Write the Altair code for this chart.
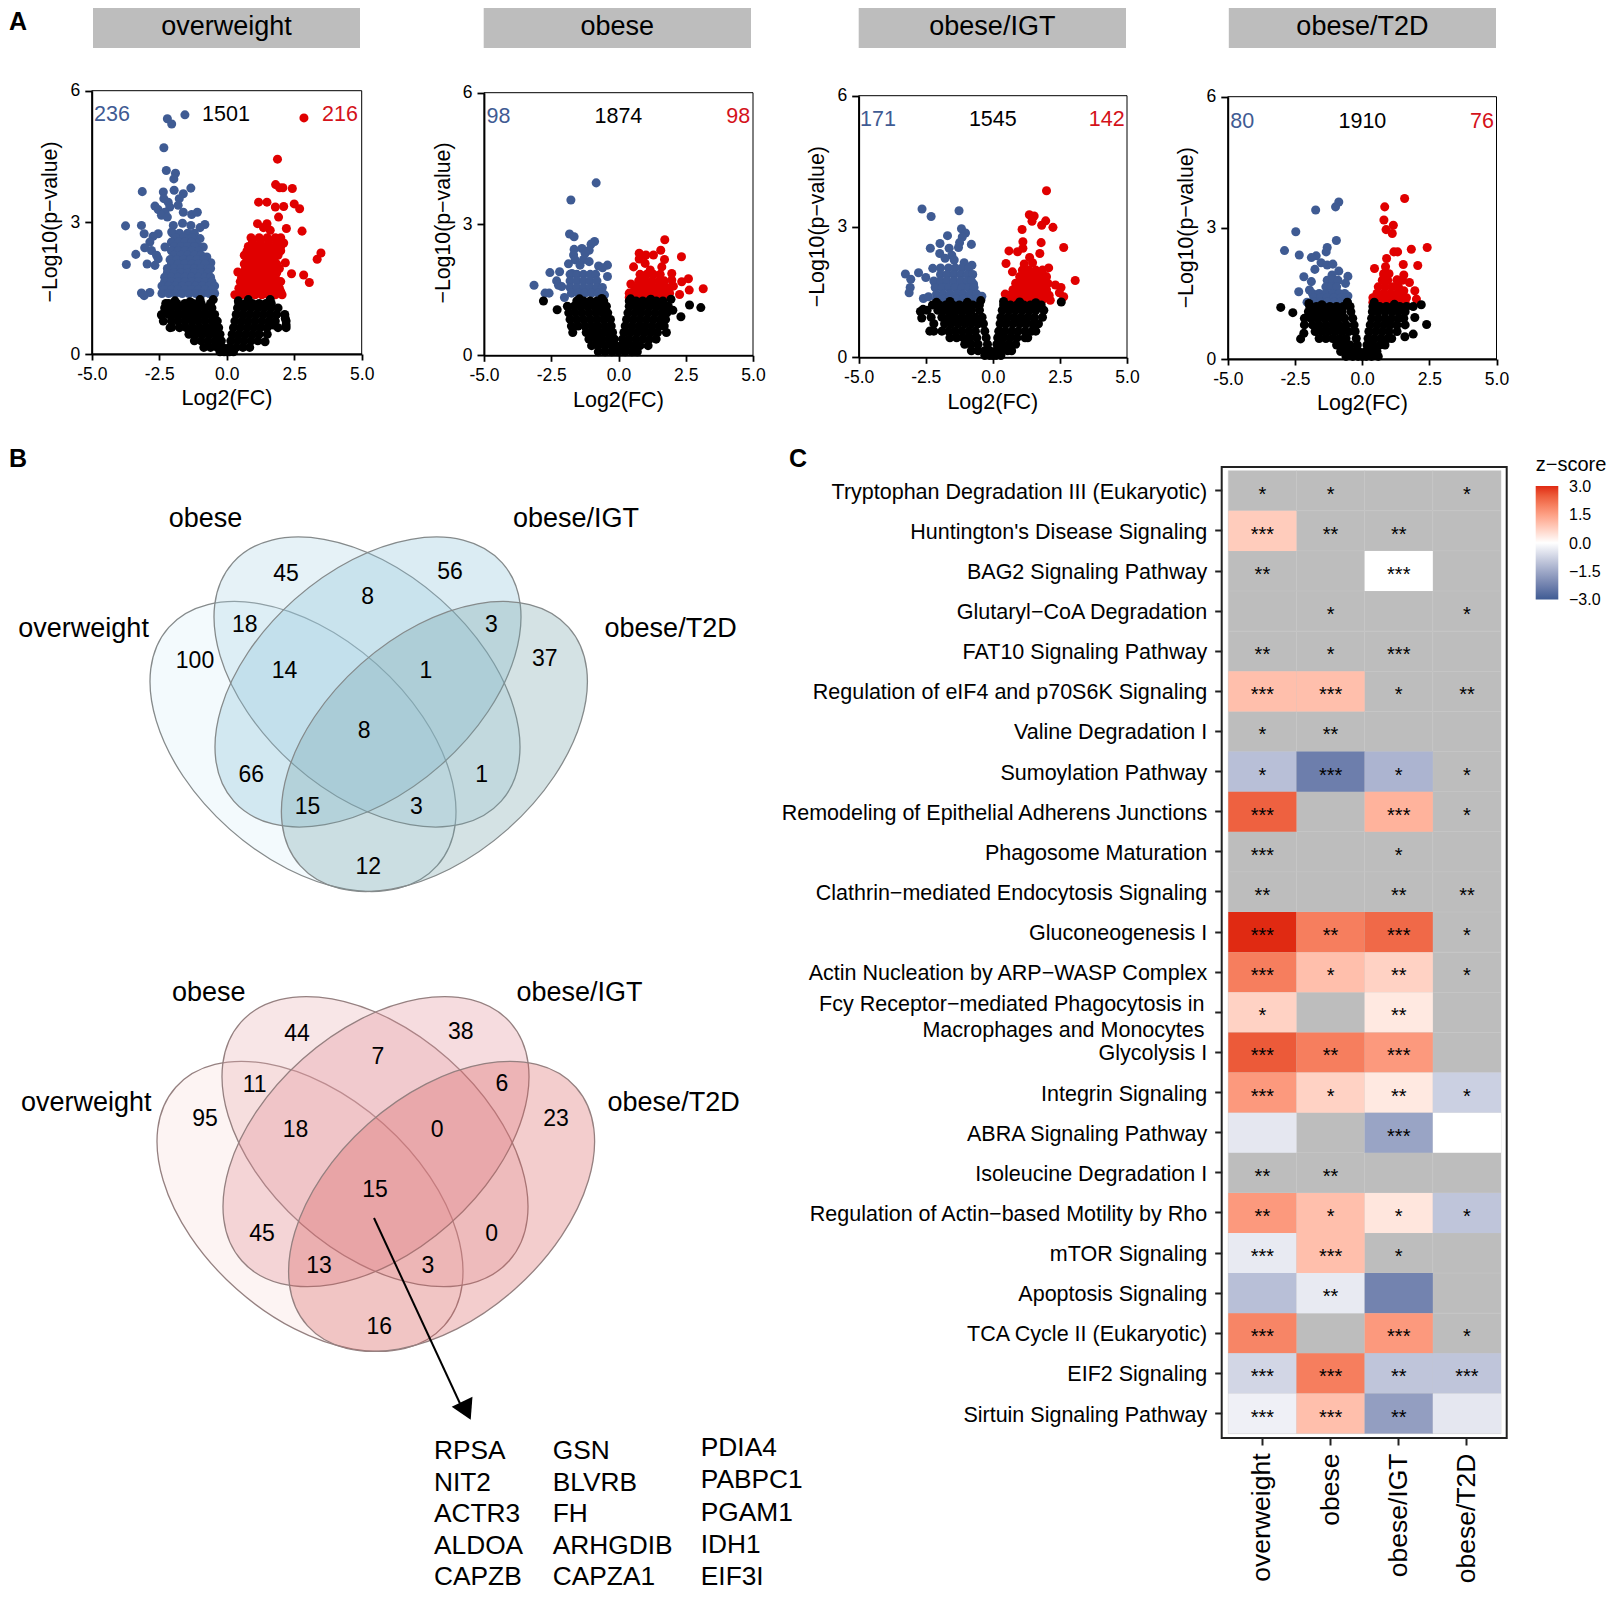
import altair as alt
import pandas as pd

FONT = "Liberation Sans"
W, H = 1599, 1582
M = 8  # page margin

groups = ["overweight", "obese", "obese/IGT", "obese/T2D"]
counts = [(236, 1501, 216), (98, 1874, 98), (171, 1545, 142), (80, 1910, 76)]
BLUE, RED = "#3f5b93", "#e00000"

# ---------- volcano values: (log2FC, -log10 p) ----------
blue_pts_1 = [(-1.55,5.45),(-2.2,5.36),(-2.04,5.24),(-2.33,4.7),(-2.24,4.18),(-1.9,4.12),(-1.96,3.99),(-3.13,3.7),(-2.35,3.69),(-1.95,3.73),(-1.33,3.78),(-1.61,3.65),(-1.76,3.54),(-2.33,3.54),(-2.17,3.46),(-2.66,3.37),(-2.54,3.29),(-2.11,3.35),(-1.8,3.39),(-2.29,3.23),(-2.42,3.16),(-2.2,3.12),(-1.61,3.23),(-1.3,3.18),(-1.09,3.23),(-3.75,2.92),(-3.16,2.93),(-3.06,2.74),(-1.98,2.93),(-1.64,2.98),(-1.33,2.93),(-0.81,2.95),(-0.99,2.88),(-2.54,2.74),(-2.73,2.68),(-2.04,2.78),(-0.99,2.63),(-2.85,2.55),(-3.04,2.42),(-1.12,2.53),(-0.87,2.44),(-2.29,2.44),(-2.79,2.36),(-3.37,2.27),(-2.6,2.25),(-3.72,2.04),(-2.95,2.05),(-2.66,2.02),(-2.54,2.17),(-0.74,2.21),(-0.59,2.08),(-3.16,1.39),(-2.85,1.4),(-3.06,1.33)]
blue_rows_1 = [(2.75,[-2.0,-1.75,-1.45,-1.2]),(2.65,[-1.9,-1.6,-1.3]),(2.55,[-2.05,-1.8,-1.55,-1.3]),(2.45,[-1.95,-1.7,-1.45,-1.2]),(2.35,[-2.05,-1.8,-1.55,-1.3,-1.05]),(2.25,[-1.95,-1.7,-1.45,-1.2,-0.95]),(2.15,[-2.1,-1.85,-1.6,-1.35,-1.1,-0.85]),(2.05,[-2.05,-1.8,-1.55,-1.3,-1.05,-0.8]),(1.95,[-2.2,-1.95,-1.7,-1.45,-1.2,-0.95,-0.7,-0.6]),(1.85,[-2.2,-1.95,-1.7,-1.45,-1.2,-0.95,-0.7]),(1.75,[-2.3,-2.05,-1.8,-1.55,-1.3,-1.05,-0.8,-0.6]),(1.65,[-2.3,-2.05,-1.8,-1.55,-1.3,-1.05,-0.8,-0.55]),(1.55,[-2.4,-2.15,-1.9,-1.65,-1.4,-1.15,-0.9,-0.65,-0.45]),(1.47,[-2.3,-2.05,-1.8,-1.55,-1.3,-1.05,-0.8,-0.55]),(1.38,[-2.4,-2.15,-1.9,-1.65,-1.4,-1.15,-0.9,-0.65,-0.45])]
red_pts_1 = [(2.86,5.38),(1.88,4.44),(1.81,3.86),(1.96,3.79),(2.08,3.79),(2.43,3.77),(1.18,3.46),(1.49,3.46),(2.5,3.42),(2.7,3.31),(2.11,3.36),(1.8,3.35),(1.92,3.12),(1.14,2.97),(1.49,2.97),(1.36,2.88),(2.21,2.86),(2.79,2.8),(1.61,2.82),(3.49,2.3),(3.35,2.16),(2.17,2.08),(2.4,1.83),(2.85,1.8),(3.06,1.63),(0.41,1.87),(2.11,2.53)]
red_rows_1 = [(2.65,[0.9,1.2,1.5,1.8,2.0]),(2.55,[0.95,1.25,1.55,1.85]),(2.45,[0.8,1.05,1.3,1.55,1.8,2.0]),(2.35,[0.75,1.0,1.25,1.5,1.75,2.0]),(2.25,[0.65,0.9,1.15,1.4,1.65,1.9]),(2.15,[0.75,1.0,1.25,1.5,1.75]),(2.05,[0.65,0.9,1.15,1.4,1.65,1.85]),(1.95,[0.7,0.95,1.2,1.45,1.7,1.95]),(1.85,[0.6,0.85,1.1,1.35,1.6,1.85]),(1.75,[0.55,0.8,1.05,1.3,1.55,1.8]),(1.65,[0.5,0.75,1.0,1.25,1.5,1.75,2.0]),(1.58,[0.6,0.85,1.1,1.35,1.6,1.85]),(1.5,[0.45,0.7,0.95,1.2,1.45,1.7,1.95]),(1.42,[0.55,0.8,1.05,1.3,1.55,1.8,2.0]),(1.35,[0.3,0.55,0.8,1.05,1.3,1.55,1.8,2.05])]
black_pts_1 = [(-2.26,1.15),(-1.92,1.21),(-1.36,1.19),(-0.99,1.24),(-0.5,1.24),(0.43,1.21),(0.8,1.24),(1.61,1.24),(-2.42,0.89),(-2.04,0.61),(2.17,0.81),(2.2,0.66),(1.73,0.66),(1.42,0.28)]
black_rows_1 = [(1.15,[-2.15,-1.85,-1.55,-1.25,-0.95,-0.6,0.45,0.7,0.95,1.2,1.45,1.65]),(1.05,[-2.3,-2.05,-1.8,-1.55,-1.3,-1.05,-0.8,-0.55,0.4,0.65,0.9,1.15,1.4,1.65,1.9]),(0.9,[-2.4,-2.15,-1.9,-1.65,-1.4,-1.15,-0.9,-0.65,-0.45,0.35,0.6,0.85,1.1,1.35,1.6,1.85,2.15]),(0.75,[-2.35,-2.05,-1.8,-1.55,-1.3,-1.05,-0.8,-0.55,-0.35,0.3,0.55,0.8,1.05,1.3,1.55,1.8,2.2]),(0.6,[-2.1,-1.75,-1.5,-1.25,-1.0,-0.75,-0.5,-0.3,0.25,0.5,0.75,1.0,1.25,1.5,1.9,2.2]),(0.45,[-1.4,-1.15,-0.9,-0.65,-0.4,-0.25,0.2,0.45,0.7,0.95,1.2,1.5]),(0.3,[-1.2,-0.95,-0.7,-0.45,-0.2,0.15,0.4,0.65,0.9,1.15]),(0.15,[-0.85,-0.6,-0.35,-0.15,0.1,0.35,0.6,0.85]),(0.05,[-0.25,-0.1,0.0,0.1,0.25])]

blue_pts_2 = [(-0.83,3.94),(-1.77,3.55),(-1.82,2.77),(-1.65,2.71),(-0.89,2.6),(-1.02,2.54),(-1.65,2.42),(-1.36,2.44),(-1.09,2.4),(-1.24,2.33),(-1.67,2.29),(-1.61,2.18),(-1.3,2.19),(-1.09,2.14),(-1.86,2.09),(-1.43,2.06),(-0.74,2.04),(-0.41,2.06),(-0.59,2.0),(-0.41,1.8),(-2.55,1.89),(-2.19,1.91),(-1.73,1.87),(-2.3,1.7),(-2.23,1.6),(-2.11,1.57),(-3.14,1.6),(-2.73,1.42),(-2.58,1.42),(-2.01,1.32),(-0.52,1.38)]
blue_rows_2 = [(1.85,[-1.8,-1.55,-1.3,-1.05,-0.85]),(1.7,[-1.8,-1.55,-1.3,-1.05,-0.8]),(1.55,[-1.8,-1.55,-1.3,-1.05,-0.8,-0.6]),(1.42,[-1.75,-1.5,-1.25,-1.0,-0.75,-0.6])]
red_pts_2 = [(1.72,2.64),(1.57,2.4),(0.77,2.33),(1.3,2.29),(1.02,2.29),(2.34,2.25),(1.71,2.19),(0.77,2.2),(0.56,2.02),(0.99,2.1),(1.61,2.02),(1.98,1.87),(1.18,1.95),(2.6,1.75),(2.35,1.68),(3.15,1.52),(2.63,1.49),(2.27,1.39),(0.46,1.63),(2.04,1.58),(1.98,1.72)]
red_rows_2 = [(1.85,[0.8,1.05,1.3,1.55]),(1.7,[0.75,1.0,1.25,1.5,1.7]),(1.55,[0.6,0.85,1.1,1.35,1.6,1.8]),(1.42,[0.4,0.65,0.9,1.15,1.4,1.65,1.9]),(1.32,[0.4,0.65,0.9,1.15,1.4,1.65])]
black_pts_2 = [(-2.79,1.24),(-2.28,1.04),(1.95,1.28),(2.64,1.15),(3.06,1.09),(2.32,0.88),(2.02,1.03),(-1.45,1.29),(-0.62,1.3),(0.45,1.29),(1.2,1.28)]
black_rows_2 = [(1.24,[-1.55,-1.3,-1.05,-0.8,-0.55,0.4,0.65,0.9,1.15,1.4,1.65]),(1.12,[-1.9,-1.65,-1.4,-1.15,-0.9,-0.65,-0.45,0.4,0.65,0.9,1.15,1.4,1.65,1.85]),(0.97,[-1.85,-1.6,-1.35,-1.1,-0.85,-0.6,-0.4,0.35,0.6,0.85,1.1,1.35,1.6,1.8]),(0.82,[-1.8,-1.55,-1.3,-1.05,-0.8,-0.55,-0.3,0.3,0.55,0.8,1.05,1.3,1.55,1.75]),(0.67,[-1.75,-1.5,-1.25,-1.0,-0.75,-0.5,-0.27,0.25,0.5,0.75,1.0,1.25,1.5,1.7]),(0.52,[-1.7,-1.2,-0.95,-0.7,-0.45,-0.22,0.2,0.45,0.7,0.95,1.2,1.45,1.78]),(0.37,[-1.1,-0.85,-0.6,-0.35,-0.15,0.15,0.4,0.65,0.9,1.15,1.4]),(0.22,[-1.0,-0.75,-0.5,-0.25,-0.1,0.1,0.3,0.55,0.8,1.1]),(0.08,[-0.75,-0.5,-0.25,0.0,0.25,0.5,0.7])]

blue_pts_3 = [(-2.64,3.4),(-2.3,3.23),(-1.26,3.36),(-1.17,2.95),(-1.02,2.85),(-1.69,2.79),(-1.14,2.76),(-1.97,2.61),(-1.24,2.63),(-0.8,2.59),(-2.33,2.5),(-1.63,2.5),(-1.28,2.52),(-1.98,2.38),(-1.53,2.34),(-1.78,2.27),(-1.44,2.23),(-0.78,2.11),(-1.07,2.17),(-2.24,2.04),(-3.26,1.91),(-3.06,1.79),(-2.77,1.94),(-3.08,1.6),(-3.12,1.48),(-2.5,1.83),(-2.59,1.35),(-2.4,1.39),(-0.41,1.4),(-0.72,1.68)]
blue_rows_3 = [(2.05,[-1.95,-1.65,-1.4,-1.15,-0.9]),(1.9,[-1.95,-1.7,-1.45,-1.2,-0.95,-0.75]),(1.75,[-2.2,-1.95,-1.7,-1.45,-1.2,-0.95,-0.8]),(1.6,[-2.15,-1.9,-1.65,-1.4,-1.15,-0.9,-0.7]),(1.45,[-2.1,-1.85,-1.6,-1.35,-1.1,-0.85,-0.6]),(1.33,[-2.1,-1.85,-1.6,-1.35,-1.1,-0.85,-0.6,-0.45])]
red_pts_3 = [(2.0,3.82),(1.36,3.27),(1.54,3.24),(1.46,3.12),(1.97,3.13),(1.82,3.03),(2.24,2.98),(1.09,2.93),(1.12,2.65),(1.8,2.63),(2.64,2.52),(0.6,2.44),(0.92,2.42),(1.12,2.5),(1.75,2.38),(1.37,2.29),(0.49,2.15),(1.17,2.14),(1.48,2.17),(0.73,1.96),(2.08,2.05),(3.07,1.76),(2.33,1.66),(2.54,1.6),(2.48,1.48),(2.64,1.39),(0.46,1.45),(2.14,1.31)]
red_rows_3 = [(2.0,[1.1,1.35,1.6,1.85]),(1.85,[1.0,1.25,1.5,1.75,2.0]),(1.7,[0.85,1.1,1.35,1.6,1.85,2.05]),(1.55,[0.75,1.0,1.25,1.5,1.75,2.0]),(1.42,[0.6,0.85,1.1,1.35,1.6,1.85,2.1]),(1.32,[0.6,0.85,1.1,1.35,1.6,1.85])]
black_pts_3 = [(2.55,1.27),(-2.7,1.05),(-2.65,0.9),(-2.35,0.6),(-2.6,1.1),(-2.1,1.26),(-1.6,1.28),(-0.95,1.26),(-0.45,1.3),(0.4,1.28),(1.0,1.27),(1.6,1.25)]
black_rows_3 = [(1.2,[-2.25,-2.0,-1.75,-1.5,-1.25,-1.0,-0.75,-0.5,0.4,0.65,0.9,1.15,1.4,1.65,1.8]),(1.08,[-2.45,-2.05,-1.8,-1.55,-1.3,-1.05,-0.8,-0.5,0.35,0.6,0.85,1.1,1.35,1.6,1.9]),(0.92,[-2.3,-1.9,-1.65,-1.4,-1.15,-0.9,-0.65,-0.4,0.3,0.55,0.8,1.05,1.3,1.55,1.85]),(0.77,[-2.2,-1.8,-1.55,-1.3,-1.05,-0.8,-0.55,-0.35,0.27,0.5,0.75,1.0,1.25,1.5,1.7]),(0.6,[-2.2,-1.9,-1.65,-1.4,-1.15,-0.9,-0.65,-0.3,0.22,0.45,0.7,0.95,1.2,1.45,1.6]),(0.45,[-1.6,-1.35,-1.1,-0.85,-0.6,-0.25,0.18,0.4,0.65,0.9,1.2,1.3]),(0.3,[-1.05,-0.8,-0.55,-0.2,0.15,0.35,0.6,0.85]),(0.15,[-0.8,-0.55,-0.3,-0.12,0.12,0.3,0.55,0.7]),(0.04,[-0.3,-0.12,0.0,0.12,0.3])]

blue_pts_4 = [(-0.87,3.59),(-0.99,3.48),(-1.73,3.41),(-2.47,2.91),(-0.96,2.71),(-1.3,2.55),(-1.34,2.45),(-2.89,2.48),(-2.34,2.38),(-1.71,2.36),(-1.89,2.32),(-1.53,2.2),(-1.3,2.15),(-1.09,2.17),(-1.76,2.05),(-0.87,2.01),(-2.17,1.88),(-0.53,1.89),(-1.12,1.92),(-1.89,1.77),(-0.62,1.73),(-2.36,1.54),(-1.96,1.58),(-0.53,1.44)]
blue_rows_4 = [(1.8,[-1.3,-1.1,-0.9]),(1.65,[-1.35,-1.15,-0.95]),(1.5,[-1.85,-1.6,-1.35,-1.1,-0.85,-0.65]),(1.4,[-1.8,-1.55,-1.3,-1.05,-0.8,-0.6]),(1.3,[-2.05,-1.8,-1.55,-1.3,-1.05,-0.8,-0.55])]
red_pts_4 = [(1.58,3.67),(0.84,3.48),(0.81,3.18),(1.16,3.06),(0.89,2.96),(1.12,2.87),(2.42,2.55),(1.83,2.51),(1.18,2.45),(1.32,2.45),(0.91,2.3),(1.53,2.16),(2.07,2.14),(0.46,2.07),(0.87,2.11),(1.55,1.92),(1.76,1.75),(1.96,1.56),(2.02,1.37),(0.81,1.92),(1.3,1.81),(1.55,1.56)]
red_rows_4 = [(1.95,[0.8,1.0]),(1.8,[0.75,0.95,1.3,1.5]),(1.65,[0.6,0.85,1.1,1.35]),(1.5,[0.55,0.8,1.05,1.3,1.5]),(1.4,[0.4,0.65,0.9,1.15,1.4,1.65]),(1.3,[0.4,0.6,0.85,1.1,1.35,1.6])]
black_pts_4 = [(-3.03,1.18),(-2.58,1.06),(2.4,0.79),(2.2,1.24),(1.96,0.95),(1.9,0.57),(1.59,0.51),(-2.29,0.46),(-2.17,0.59),(-1.98,1.27),(-1.5,1.24),(-0.55,1.3),(0.45,1.3),(1.2,1.25)]
black_rows_4 = [(1.2,[-1.95,-1.7,-1.45,-1.2,-0.95,-0.7,-0.45,0.4,0.65,0.9,1.15,1.4,1.65,1.9]),(1.08,[-2.0,-1.75,-1.5,-1.25,-1.0,-0.75,-0.42,0.38,0.6,0.85,1.1,1.35,1.6]),(0.93,[-2.15,-1.9,-1.65,-1.4,-1.15,-0.9,-0.65,-0.35,0.35,0.6,0.85,1.1,1.35,1.55]),(0.78,[-2.15,-1.85,-1.6,-1.35,-1.1,-0.85,-0.6,-0.3,0.3,0.55,0.8,1.05,1.3,1.6]),(0.63,[-1.75,-1.5,-1.25,-1.0,-0.75,-0.5,-0.26,0.25,0.5,0.75,1.0,1.3]),(0.47,[-1.6,-1.35,-1.1,-0.85,-0.6,-0.22,0.22,0.45,0.7,0.95,1.1]),(0.32,[-0.95,-0.7,-0.45,-0.18,0.18,0.4,0.65,0.85]),(0.17,[-0.8,-0.55,-0.3,-0.13,0.13,0.3,0.55]),(0.06,[-0.6,-0.35,-0.15,0.0,0.15,0.35,0.6])]

volcano_values = [
    (blue_pts_1, blue_rows_1, red_pts_1, red_rows_1, black_pts_1, black_rows_1),
    (blue_pts_2, blue_rows_2, red_pts_2, red_rows_2, black_pts_2, black_rows_2),
    (blue_pts_3, blue_rows_3, red_pts_3, red_rows_3, black_pts_3, black_rows_3),
    (blue_pts_4, blue_rows_4, red_pts_4, red_rows_4, black_pts_4, black_rows_4),
]

# ---------- heat map values ----------
fcy_lines = ["Fcy Receptor\u2212mediated Phagocytosis in", "Macrophages and Monocytes"]
FCY = " ".join(fcy_lines)
pathways = ["Tryptophan Degradation III (Eukaryotic)", "Huntington's Disease Signaling", "BAG2 Signaling Pathway",
            "Glutaryl\u2212CoA Degradation", "FAT10 Signaling Pathway", "Regulation of eIF4 and p70S6K Signaling",
            "Valine Degradation I", "Sumoylation Pathway", "Remodeling of Epithelial Adherens Junctions",
            "Phagosome Maturation", "Clathrin\u2212mediated Endocytosis Signaling", "Gluconeogenesis I",
            "Actin Nucleation by ARP\u2212WASP Complex", FCY,
            "Glycolysis I", "Integrin Signaling", "ABRA Signaling Pathway", "Isoleucine Degradation I",
            "Regulation of Actin\u2212based Motility by Rho", "mTOR Signaling", "Apoptosis Signaling",
            "TCA Cycle II (Eukaryotic)", "EIF2 Signaling", "Sirtuin Signaling Pathway"]
N = None
z_overweight = [N, 0.8, N, N, N, 1.0, N, -1.1, 2.4, N, N, 3.0, 2.0, 0.7, 2.5, 1.6, -0.4, N, 1.6, -0.35, -1.1, 1.9, -0.7, -0.25]
z_obese = [N, N, N, N, N, 1.0, N, -2.3, N, N, N, 2.0, 1.0, N, 2.0, 0.7, N, N, 1.0, 1.0, -0.35, N, 2.0, 1.0]
z_igt = [N, N, 0.0, N, N, N, N, -1.3, 1.2, N, N, 2.3, 0.7, 0.35, 1.6, 0.35, -1.6, N, 0.4, N, -2.2, 1.6, -1.0, -1.7]
z_t2d = [N, N, N, N, N, N, N, N, N, N, N, N, N, N, N, -0.8, 0.0, N, -1.0, N, N, N, -1.0, -0.4]
s_overweight = ["*","***","**","","**","***","*","*","***","***","**","***","***","*","***","***","","**","**","***","","***","***","***"]
s_obese = ["*","**","","*","*","***","**","***","","","","**","*","","**","*","","**","*","***","**","","***","***"]
s_igt = ["","**","***","","***","*","","*","***","*","**","***","**","**","***","**","***","","*","*","","***","**","**"]
s_t2d = ["*","","","*","","**","","*","*","","**","*","*","","","*","","","*","","","*","***",""]
z_cols = [z_overweight, z_obese, z_igt, z_t2d]
s_cols = [s_overweight, s_obese, s_igt, s_t2d]
legend_ticks = [3.0, 1.5, 0.0, -1.5, -3.0]
legend_marks = [1.5, -1.5]

# ---------- Venn counts ----------
venn_blue_counts = [45, 56, 8, 18, 3, 100, 14, 1, 37, 8, 66, 1, 15, 3, 12]
venn_red_counts = [44, 38, 7, 11, 6, 95, 18, 0, 23, 15, 45, 0, 13, 3, 16]
genes = [["RPSA", "NIT2", "ACTR3", "ALDOA", "CAPZB"],
         ["GSN", "BLVRB", "FH", "ARHGDIB", "CAPZA1"],
         ["PDIA4", "PABPC1", "PGAM1", "IDH1", "EIF3I"]]

# ---------- layout (page pixels) ----------
strip_x = [(93, 360), (483.7, 751), (858.7, 1126), (1228.8, 1496)]
strip_y = (4, 48)
panel_x = [(91.8, 361.7), (484, 753), (858.7, 1127), (1227.8, 1496.5)]
panel_y = [(354, 90.7), (355.3, 92.7), (357.3, 95.7), (359, 96.7)]
count_y = [114.5, 116.5, 119.5, 121.5]
count_x = [(112, 226, 340), (498.5, 618.4, 738.3), (878, 992.8, 1106.7), (1242.3, 1362.4, 1482)]
xtitle_pos = [(227, 399.3), (618.4, 400.7), (992.8, 402.7), (1362.4, 403.7)]
ytitle_pos = [(51, 222), (444, 223), (818, 226.7), (1187, 227.8)]

venn_blue_pos = [(286,573.8),(450,572.2),(367.7,597.2),(244.8,624.8),(491.5,624.8),(195,660.5),(284.6,670.8),(425.9,670.5),(544.8,659.2),(364.2,730.8),(251.2,774.8),(481.6,774.8),(307.5,806.5),(416.4,806.5),(368.2,867.2)]
venn_red_pos = [(297,1033.9),(460.8,1031.5),(378,1056.7),(254.7,1084.8),(502,1083.5),(205,1119.4),(295.5,1130.3),(437.2,1129.9),(556,1119.4),(375,1190.1),(262,1234.1),(491.6,1234.1),(319,1265.8),(427.8,1265.8),(379.2,1326.8)]
venn_blue_lab = [(83.6,628.7),(205.5,519),(576,519),(670.6,628.7)]
venn_red_lab = [(86.3,1102.6),(208.7,992.7),(579.5,992.7),(673.6,1102.6)]
ell_a, ell_b, ell_angle = 179.5, 110.5, 41.6
venn_blue_ell = [(303,746.5),(367,682),(368,682),(434.4,746.5)]
venn_red_ell = [(310,1206.4),(375,1141.6),(376,1141.6),(441.6,1206.4)]
venn_blue_fill = ["#d7eef8", "#acd4e4", "#87c0d7", "#709ea5"]
venn_red_fill = ["#f8dad7", "#e8acaf", "#e18a94", "#d75858"]
gene_x = [434, 552.8, 700.8]
gene_y = [[1451,1482.5,1514,1545.5,1577],[1451,1482.5,1514,1545.5,1577],[1448,1480.3,1512.6,1544.8,1577]]
heat_x, heat_y = (1228.3, 1501), (470.7, 1433.6)
heat_frame = (1221.7, 1506.7, 467, 1438)
fcy_y = [1004.5, 1031]
bar_x, bar_y = (1535.7, 1558.3), (600.4, 486.8)
bar_label_x = 1569

# ---------- helpers ----------
def expand(pts, rows):
    out = list(pts)
    for y, xs in rows:
        out += [(x, y) for x in xs]
    return pd.DataFrame(out, columns=["fc", "p"])

def label_layer(df, angle=None, weight=None, align="center"):
    kw = dict(align=align, baseline="middle", font=FONT)
    if weight:
        kw["fontWeight"] = weight
    if angle is not None:
        kw["angle"] = angle
    return alt.Chart(df).mark_text(**kw).encode(
        x=alt.X("px:Q", scale=None, axis=None),
        y=alt.Y("py:Q", scale=None, axis=None),
        text="text:N",
        size=alt.Size("fs:Q", scale=None, legend=None),
        color=alt.Color("col:N", scale=None, legend=None),
    )

def row(x, y, text, fs, col="black"):
    return dict(px=x - M, py=y - M, text=str(text), fs=fs, col=col)

layers = []

# ---------- Venn ellipses ----------
k = ell_b / ell_a
c = 0.5523
ELL_PATH = (f"M-1,0C-1,{-c*k:.4f} {-c:.4f},{-k:.4f} 0,{-k:.4f}"
            f"C{c:.4f},{-k:.4f} 1,{-c*k:.4f} 1,0"
            f"C1,{c*k:.4f} {c:.4f},{k:.4f} 0,{k:.4f}"
            f"C{-c:.4f},{k:.4f} -1,{c*k:.4f} -1,0Z")
for centers, fills, stroke in [(venn_blue_ell, venn_blue_fill, "#858a8b"), (venn_red_ell, venn_red_fill, "#958080")]:
    for i, g in enumerate(groups):
        d = pd.DataFrame([dict(group=g, px=centers[i][0] - M, py=centers[i][1] - M)])
        layers.append(alt.Chart(d).mark_point(
            shape=ELL_PATH, filled=True, fill=fills[i], fillOpacity=0.3, opacity=1,
            stroke=stroke, strokeWidth=1.3, strokeOpacity=1, size=4 * ell_a ** 2,
            angle=ell_angle if i < 2 else 360 - ell_angle,
        ).encode(x=alt.X("px:Q", scale=None, axis=None), y=alt.Y("py:Q", scale=None, axis=None)))

# ---------- strips ----------
strip_df = pd.DataFrame([dict(g=g, x1=a - M, x2=b - M, y1=strip_y[0] - M, y2=strip_y[1] - M)
                         for g, (a, b) in zip(groups, strip_x)])
layers.append(alt.Chart(strip_df).mark_rect(color="#bdbdbd").encode(
    x=alt.X("x1:Q", scale=None, axis=None), x2="x2:Q",
    y=alt.Y("y1:Q", scale=None, axis=None), y2="y2:Q"))

# ---------- volcanoes ----------
tick_expr = "datum.value < 0 ? '-' + format(-datum.value, '.1f') : format(datum.value, '.1f')"
for i in range(4):
    xs = alt.Scale(domain=[-5, 5], range=[panel_x[i][0] - M, panel_x[i][1] - M], nice=False, zero=False)
    ys = alt.Scale(domain=[0, 6], range=[panel_y[i][0] - M, panel_y[i][1] - M], nice=False, zero=False)
    frame = pd.DataFrame([dict(x=-5, x2=5, y=0, y2=6)])
    layers.append(alt.Chart(frame).mark_rect(fillOpacity=0, fill="white", stroke="black", strokeWidth=1).encode(
        x=alt.X("x:Q", scale=xs, title=None, axis=alt.Axis(
            orient="bottom", offset=(panel_y[i][0] - M) - H, values=[-5, -2.5, 0, 2.5, 5], labelExpr=tick_expr,
            grid=False, domainColor="black", domainWidth=1.8, tickColor="black", tickWidth=1.8, tickSize=6,
            labelFont=FONT, labelFontSize=17.5, labelColor="black", labelPadding=5, labelFlush=False, labelOverlap=False, title=None)),
        x2="x2:Q",
        y=alt.Y("y:Q", scale=ys, title=None, axis=alt.Axis(
            orient="left", offset=-(panel_x[i][0] - M), values=[0, 3, 6], format="d",
            grid=False, domainColor="black", domainWidth=1.8, tickColor="black", tickWidth=1.8, tickSize=7,
            labelFont=FONT, labelFontSize=17.5, labelColor="black", labelPadding=5, labelFlush=False, labelOverlap=False, title=None)),
        y2="y2:Q"))
    bp, br, rp, rr, kp, kr = volcano_values[i]
    for pts, rows, colr in [(bp, br, BLUE), (rp, rr, RED), (kp, kr, "black")]:
        layers.append(alt.Chart(expand(pts, rows)).mark_circle(size=82, color=colr, opacity=1).encode(
            x=alt.X("fc:Q", scale=xs, axis=None), y=alt.Y("p:Q", scale=ys, axis=None)))

# ---------- heat map ----------
hm = pd.DataFrame([dict(row=p, col=g, z=z_cols[j][r], star=s_cols[j][r])
                   for r, p in enumerate(pathways) for j, g in enumerate(groups)])
hx = alt.Scale(type="band", domain=groups, range=[heat_x[0] - M, heat_x[1] - M], paddingInner=0, paddingOuter=0)
hy = alt.Scale(type="band", domain=pathways, range=[heat_y[0] - M, heat_y[1] - M], paddingInner=0, paddingOuter=0)
layers.append(alt.Chart(hm).mark_rect(color="#bdbdbd", stroke="#c5c5c5", strokeWidth=0.5).encode(
    x=alt.X("col:N", scale=hx, sort=None, title=None, axis=alt.Axis(
        orient="bottom", offset=(heat_frame[3] - M) - H, labelAngle=270, labelAlign="right", labelBaseline="middle",
        grid=False, domain=False, tickColor="#222222", tickWidth=2, tickSize=7, labelFont=FONT, labelFontSize=26.5,
        labelColor="black", labelPadding=8, labelLimit=400, title=None)),
    y=alt.Y("row:N", scale=hy, sort=None, title=None, axis=alt.Axis(
        orient="left", offset=-(heat_frame[0] - M), labelExpr=f"datum.label == '{FCY}' ? '' : datum.label",
        grid=False, domain=False, tickColor="#222222", tickWidth=2, tickSize=7, labelFont=FONT, labelFontSize=21.5,
        labelColor="black", labelPadding=8, labelOffset=2, labelLimit=600, labelOverlap=False, labelBound=False, title=None)),
))
layers.append(alt.Chart(hm[hm.z.notna()]).mark_rect().encode(
    x=alt.X("col:N", scale=hx, sort=None, axis=None),
    y=alt.Y("row:N", scale=hy, sort=None, axis=None),
    color=alt.Color("z:Q", scale=alt.Scale(domain=[-3, 0, 3], range=["#3f5b93", "#ffffff", "#e02a12"], interpolate="lab"),
                    legend=alt.Legend(
                        orient="none", legendX=bar_x[0] - M, legendY=455 - M, title="z\u2212score", values=legend_ticks,
                        labelExpr="''", gradientLength=bar_y[0] - bar_y[1], gradientThickness=bar_x[1] - bar_x[0],
                        titleFont=FONT, titleFontSize=20, titleFontWeight="normal", titleColor="black",
                        labelFontSize=16, titlePadding=11, tickCount=5, gradientStrokeWidth=0)),
))
layers.append(alt.Chart(hm[hm.star != ""]).mark_text(font=FONT, fontSize=20, dy=4, baseline="middle", align="center", color="black").encode(
    x=alt.X("col:N", scale=hx, sort=None, axis=None),
    y=alt.Y("row:N", scale=hy, sort=None, axis=None),
    text="star:N"))
frame_df = pd.DataFrame([dict(x1=heat_frame[0] - M, x2=heat_frame[1] - M, y1=heat_frame[2] - M, y2=heat_frame[3] - M)])
layers.append(alt.Chart(frame_df).mark_rect(fillOpacity=0, fill="white", stroke="#222222", strokeWidth=2).encode(
    x=alt.X("x1:Q", scale=None, axis=None), x2="x2:Q",
    y=alt.Y("y1:Q", scale=None, axis=None), y2="y2:Q"))

# ---------- colour bar labels and white ticks, on the colour bar's own value scale ----------
bar_scale = alt.Scale(domain=[-3, 3], range=[bar_y[0] - M, bar_y[1] - M], nice=False, zero=False)
bar_df = pd.DataFrame(dict(v=legend_ticks, px=[bar_label_x - M] * 5,
                           text=[f"{v:.1f}".replace("-", "\u2212") for v in legend_ticks]))
layers.append(alt.Chart(bar_df).mark_text(font=FONT, fontSize=16, align="left", baseline="middle", color="black").encode(
    x=alt.X("px:Q", scale=None, axis=None), y=alt.Y("v:Q", scale=bar_scale, axis=None), text="text:N"))
for left, right in [(bar_x[0], bar_x[0] + 4.5), (bar_x[1] - 4.5, bar_x[1])]:
    mk = pd.DataFrame(dict(v=legend_marks, x1=[left - M] * 2, x2=[right - M] * 2))
    layers.append(alt.Chart(mk).mark_rule(color="white", strokeWidth=1).encode(
        x=alt.X("x1:Q", scale=None, axis=None), x2="x2:Q", y=alt.Y("v:Q", scale=bar_scale, axis=None)))

# ---------- arrow ----------
arrow = pd.DataFrame([dict(x1=374 - M, y1=1218 - M, x2=460 - M, y2=1403.5 - M)])
layers.append(alt.Chart(arrow).mark_rule(color="black", strokeWidth=2).encode(
    x=alt.X("x1:Q", scale=None, axis=None), x2="x2:Q",
    y=alt.Y("y1:Q", scale=None, axis=None), y2="y2:Q"))
head = pd.DataFrame([dict(px=466.4 - M, py=1410.7 - M)])
layers.append(alt.Chart(head).mark_point(shape="triangle-up", filled=True, color="black", opacity=1, size=529, angle=154.4).encode(
    x=alt.X("px:Q", scale=None, axis=None), y=alt.Y("py:Q", scale=None, axis=None)))

# ---------- text ----------
anno = []
for g, (a, b) in zip(groups, strip_x):
    anno.append(row((a + b) / 2, 27, g, 27))
for i in range(4):
    for v, x, col in zip(counts[i], count_x[i], (BLUE, "black", "#d4121a")):
        anno.append(row(x, count_y[i], v, 21.5, col))
    anno.append(row(xtitle_pos[i][0], xtitle_pos[i][1], "Log2(FC)", 21.5))
for v, p in zip(venn_blue_counts, venn_blue_pos):
    anno.append(row(p[0], p[1], v, 23))
for v, p in zip(venn_red_counts, venn_red_pos):
    anno.append(row(p[0], p[1], v, 23))
for g, p in zip(groups, venn_blue_lab):
    anno.append(row(p[0], p[1], g, 27))
for g, p in zip(groups, venn_red_lab):
    anno.append(row(p[0], p[1], g, 27))
layers.append(label_layer(pd.DataFrame(anno)))

layers.append(label_layer(pd.DataFrame([row(x, y, "\u2212Log10(p\u2212value)", 21.3) for x, y in ytitle_pos]), angle=270))

gene_rows = []
for cx, cys, names in zip(gene_x, gene_y, genes):
    for cy, n in zip(cys, names):
        gene_rows.append(row(cx, cy, n, 26.3))
layers.append(label_layer(pd.DataFrame(gene_rows), align="left"))

layers.append(label_layer(pd.DataFrame([row(1204.5, yy, t, 21.5) for yy, t in zip(fcy_y, fcy_lines)]), align="right"))

layers.append(label_layer(pd.DataFrame([row(9, 22, "A", 25), row(9, 459, "B", 25), row(789, 459, "C", 25)]), weight="bold", align="left"))

chart = alt.layer(*layers).resolve_scale(
    x="independent", y="independent", color="independent", size="independent"
).properties(
    width=W, height=H, padding=0, autosize=alt.AutoSizeParams(type="none")
).configure_view(stroke=None)

chart.save("out.html", embed_options={"renderer": "svg", "actions": False})
